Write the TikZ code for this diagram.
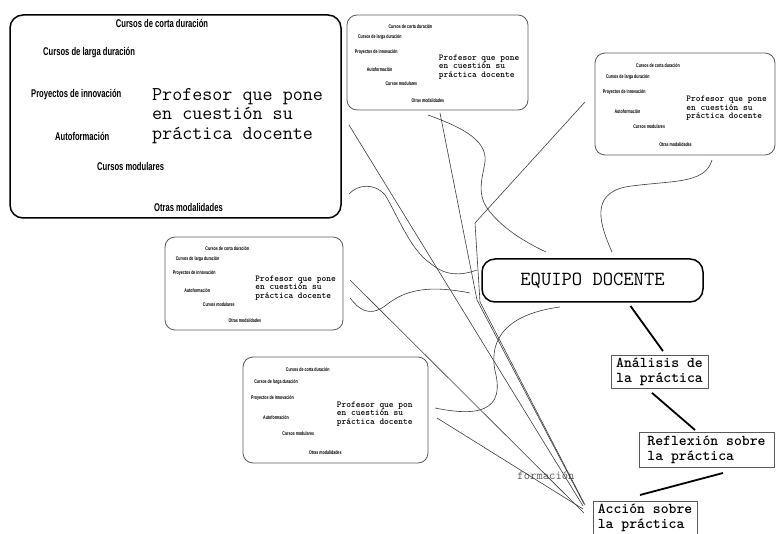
\documentclass[tikz,border=0pt]{standalone}
\usepackage{fontspec}
\usetikzlibrary{positioning, calc}
\newfontfamily\narrowfont[FakeStretch=0.68]{Liberation Sans}
\definecolor{linegray}{RGB}{60,60,60}
\definecolor{boxgray}{RGB}{90,90,90}

% one small copy of the modalities box: name, x0, y0, x1, y1, first line
\newcommand{\modalidades}[6]{%
  \node[modbox, minimum width={#4-#2}, minimum height={#5-#3}] (#1) at ({(#2+#4)/2},{(#3+#5)/2}) {};
  \node[tinytxt] (#1-corta) at ({#2+.35*(#4-#2)},{#3+.12*(#5-#3)}) {Cursos de corta duración};
  \node[tinytxt, anchor=west] (#1-larga) at ({#2+.06*(#4-#2)},{#3+.235*(#5-#3)}) {Cursos de larga duración};
  \node[tinytxt, anchor=west] (#1-proy) at ({#2+.043*(#4-#2)},{#3+.386*(#5-#3)}) {Proyectos de innovación};
  \node[tinytxt, anchor=west] (#1-auto) at ({#2+.108*(#4-#2)},{#3+.574*(#5-#3)}) {Autoformación};
  \node[tinytxt, anchor=west] (#1-modul) at ({#2+.212*(#4-#2)},{#3+.723*(#5-#3)}) {Cursos modulares};
  \node[tinytxt, anchor=west] (#1-otras) at ({#2+.356*(#4-#2)},{#3+.903*(#5-#3)}) {Otras modalidades};
  \node[smallprof] (#1-prof) at ({#2+.507*(#4-#2)},{#3+.458*(#5-#3)+8.5}) {#6\\en cuestión su\\práctica docente};
}

\tikzset{
  modtxt/.style={inner sep=0pt, font=\narrowfont\bfseries\fontsize{11.2}{12}\selectfont},
  tinytxt/.style={inner sep=0pt, font=\narrowfont\bfseries\fontsize{5.3}{6}\selectfont},
  bigbox/.style={draw, line width=1.5pt, rounded corners=13pt, inner sep=0pt, outer sep=0pt},
  modbox/.style={draw=boxgray, line width=0.8pt, rounded corners=10pt, inner sep=0pt, outer sep=0pt},
  prof/.style={inner sep=0pt, align=left, anchor=west, font=\ttfamily\fontsize{19.5}{19.5}\selectfont},
  smallprof/.style={inner sep=0pt, align=left, anchor=west, font=\ttfamily\bfseries\fontsize{9}{8.8}\selectfont},
  practica/.style={draw=boxgray, line width=0.9pt, inner xsep=4pt, inner ysep=3pt, outer sep=0pt,
                   align=left, font=\ttfamily\bfseries\fontsize{15}{15}\selectfont},
  link/.style={line width=1.8pt},
  thinline/.style={draw=linegray, line width=0.6pt},
}

\begin{document}
\begin{tikzpicture}[x=1pt, y=-1pt]
    \useasboundingbox (0,0) rectangle (780,534);

    % Big modalities box
    \node[bigbox, minimum width=331pt, minimum height=203pt] (big) at (175.5,116.5) {};
    \node[modtxt] (corta) at (162,23) {Cursos de corta duración};
    \node[modtxt, anchor=west] (larga) at (43,53) {Cursos de larga duración};
    \node[modtxt, anchor=west] (proy) at (31,95) {Proyectos de innovación};
    \node[modtxt, anchor=west] (auto) at (55,136) {Autoformación};
    \node[modtxt, anchor=west] (modul) at (97,167) {Cursos modulares};
    \node[modtxt, anchor=west] (otras) at (154,207) {Otras modalidades};
    \node[prof] (prof) at (152,116) {Profesor que pone\\en cuestión su\\práctica docente};

    % Small copies
    \modalidades{box2}{347}{15}{528}{110}{Profesor que pone}
    \modalidades{box3}{595}{53}{775}{155}{Profesor que pone}
    \modalidades{box4}{165}{237}{343}{330}{Profesor que pone}
    \modalidades{box5}{243}{357}{428}{463}{Profesor que pon}

    % Team and the three steps
    \node[bigbox, minimum width=221pt, minimum height=43pt,
          font=\ttfamily\fontsize{20}{20}\selectfont] (eq) at (592.5,280.5) {EQUIPO DOCENTE};
    \node[practica, minimum width=97pt, minimum height=32pt] (ana) at (659.5,372) {Análisis de\\la práctica};
    \node[practica, minimum width=135pt, minimum height=35pt] (ref) at (706.5,449.5) {Reflexión sobre\\la práctica};
    \node[practica, draw=none, anchor=north west, minimum width=104pt, minimum height=33pt] (acc) at (593,501) {Acción sobre\\la práctica};
    \draw[draw=boxgray, line width=0.9pt] ([yshift=-33pt]acc.north west) -- (acc.north west)
        -- (acc.north east) -- ([yshift=-33pt]acc.north east);

    \node[inner sep=0pt, text=boxgray, font=\ttfamily\fontsize{12.3}{13}\selectfont] (form) at (546,476) {formación};

    % Steps
    \draw[link] ([xshift=38pt,yshift=-4pt]eq.south) -- ([xshift=3.5pt,yshift=4pt]ana.north);
    \draw[link] ([xshift=-7.5pt,yshift=-4pt]ana.south) -- ([xshift=-11.5pt,yshift=2pt]ref.north);
    \draw[link] ([xshift=16.5pt,yshift=-6pt]ref.south) -- ([xshift=-5pt,yshift=6pt]acc.north);

    % Lines to the action
    \draw[thinline] ([xshift=8pt,yshift=-8.5pt]big.east) -- ([xshift=-10pt,yshift=-5pt]acc.north west);
    \draw[thinline] ([xshift=2.5pt,yshift=-3pt]box2.south) -- (477,300) -- ([xshift=-9pt,yshift=-3pt]acc.north west);
    \draw[thinline] ([xshift=-10pt,yshift=2pt]box3.west) -- (475,223) -- (480,302) -- ([xshift=-8pt,yshift=-4pt]acc.north west);
    \draw[thinline] ([xshift=7pt,yshift=3.5pt]box4.east) -- ([xshift=-9pt,yshift=-12pt]acc.north west);
    \draw[thinline] ([xshift=9pt,yshift=-8pt]box5.east) -- ([xshift=-10pt,yshift=-8pt]acc.north west);

    % Curves to the team
    \draw[thinline] ([xshift=8pt,yshift=24pt]big.south east) .. controls (358,184) and (375,183) .. (385,195)
        .. controls (395,210) and (410,250) .. (430,263) .. controls (445,276) and (460,276) .. ([xshift=-5pt,yshift=10.5pt]eq.west);
    \draw[thinline] ([xshift=-9.5pt,yshift=-5pt]box2.south) .. controls (455,125) and (488,138) .. (485,162)
        .. controls (482,180) and (476,195) .. (490,212) .. controls (505,230) and (525,242) .. ([xshift=-46.5pt,yshift=7pt]eq.north);
    \draw[thinline] ([xshift=19.5pt,yshift=7pt]eq.north) .. controls (600,225) and (590,195) .. (625,187)
        .. controls (670,180) and (705,185) .. ([xshift=27pt,yshift=-5pt]box3.south);
    \draw[thinline] ([xshift=7pt,yshift=-14.5pt]box4.east) .. controls (358,308) and (368,318) .. (385,306)
        .. controls (400,294) and (420,283) .. ([xshift=-12pt,yshift=-12.5pt]eq.west);
    \draw[thinline] ([xshift=7pt,yshift=2pt]box5.east) .. controls (465,414) and (505,418) .. (496,375)
        .. controls (488,345) and (500,315) .. ([xshift=-32.5pt,yshift=-5pt]eq.south);
\end{tikzpicture}
\end{document}
